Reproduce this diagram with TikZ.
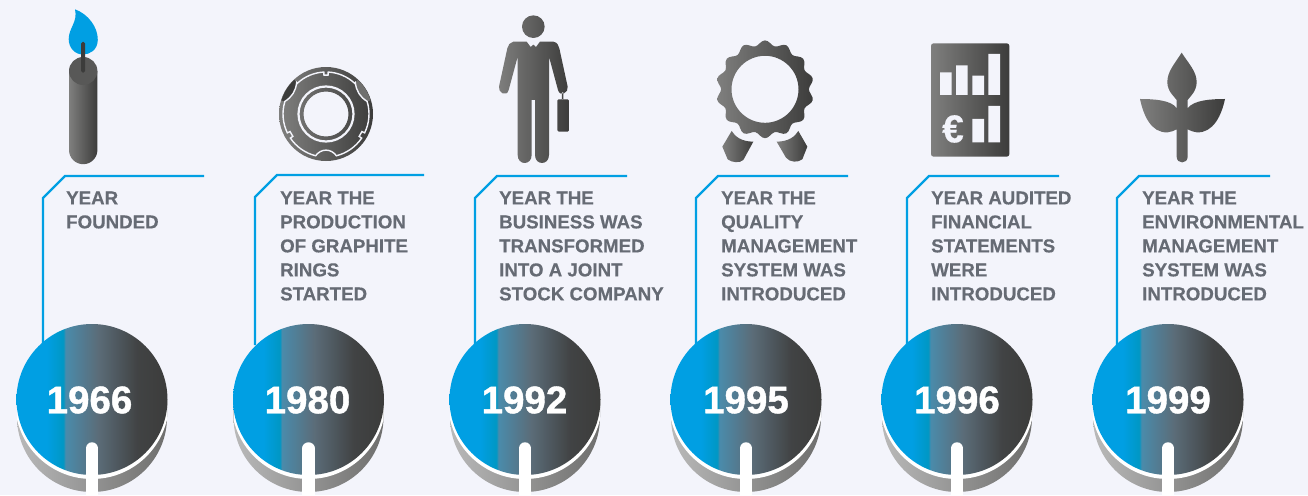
\documentclass[tikz,border=0pt]{standalone}
\usepackage{fontspec}
\setmainfont[BoldFeatures={FakeBold=0.35}]{Liberation Sans}
\newfontfamily\yearfont[BoldFeatures={FakeBold=1}]{Liberation Sans}
\definecolor{pagebg}{HTML}{F3F4FB}
\definecolor{lineblue}{HTML}{009FE3}
\definecolor{txtgray}{HTML}{666B74}
\definecolor{dkgray}{HTML}{3C3C3B}
\definecolor{midtop}{HTML}{585857}
\definecolor{dsz}{HTML}{0097C4}
\definecolor{dsa}{HTML}{4A8BAB}
\definecolor{dsb}{HTML}{5B6C78}
\definecolor{dsc}{HTML}{414344}
\definecolor{bsa}{HTML}{B9B9B9}
\definecolor{bsb}{HTML}{6E6E6D}
\definecolor{ica}{HTML}{7F7F7E}
\definecolor{lensr}{HTML}{6F6F6E}
\pgfdeclarehorizontalshading{discshade}{100bp}{color(0bp)=(lineblue);color(25bp)=(lineblue);color(35bp)=(lineblue);color(40.5bp)=(dsz);color(41.2bp)=(dsa);color(52bp)=(dsb);color(65bp)=(dsc);color(75bp)=(dkgray);color(100bp)=(dkgray)}
\pgfdeclarehorizontalshading{baseshade}{100bp}{color(0bp)=(bsa);color(25bp)=(bsa);color(75bp)=(bsb);color(100bp)=(bsb)}
\pgfdeclarehorizontalshading{iconshade}{100bp}{color(0bp)=(ica);color(25bp)=(ica);color(75bp)=(dkgray);color(100bp)=(dkgray)}
\tikzset{
  disc/.style={circle,minimum size=151pt,inner sep=0pt,shade,shading=discshade},
  yeartxt/.style={text=white,font=\yearfont\bfseries\fontsize{38.5}{38.5}\selectfont,inner sep=0pt},
  desc/.style={anchor=north west,inner sep=0pt,align=left,text=txtgray,font=\bfseries\fontsize{18.7}{24}\selectfont},
  link/.style={draw=lineblue,line width=2.2pt,line join=miter},
  stemline/.style={draw=white,line width=12.5pt,line cap=round},
  icon/.style={shade,shading=iconshade},
  gap/.style={draw=pagebg,line width=1.4pt}
}
\newcommand{\onecol}[8]{%
  \coordinate (s#1) at (#4,345);
  \coordinate (b#1) at (#4,#7+22);
  \coordinate (c#1) at (#4+22,#7);
  \coordinate (e#1) at (#5,#7);
  \draw[link] (s#1) -- (b#1) -- (c#1) -- (e#1);
  \shade[shading=baseshade] (#2-75,400) -- (#2-75,417) arc[start angle=180,end angle=0,x radius=75,y radius=75] -- (#2+75,400) -- cycle;
  \begin{scope}
    \clip (#2-75,400) -- (#2-75,417) arc[start angle=180,end angle=0,x radius=75,y radius=75] -- (#2+75,400) -- cycle;
    \fill[white] (#2,402) circle[radius=77];
  \end{scope}
  \node[disc] (d#1) at (#2,399.5) {};
  \node[yeartxt] (y#1) at (#3,400) {#1};
  \coordinate (t#1) at (#2,448.5);
  \coordinate (u#1) at (#2,500);
  \draw[stemline] (t#1) -- (u#1);
  \node[desc] (x#1) at (#6,191.3) {#8};
}
\begin{document}
\begin{tikzpicture}[x=1pt,y=-1pt]
\useasboundingbox (0,0) rectangle (1308,495);
\fill[pagebg] (0,0) rectangle (1308,495);

\onecol{1966}{92}{89.5}{43}{204}{66}{176}{YEAR\\FOUNDED}
\onecol{1980}{308.5}{307.5}{255}{424}{280}{175}{YEAR THE\\PRODUCTION\\OF GRAPHITE\\RINGS\\STARTED}
\onecol{1992}{525}{524.5}{475}{627}{499}{176}{YEAR THE\\BUSINESS WAS\\TRANSFORMED\\INTO A JOINT\\STOCK COMPANY}
\onecol{1995}{746}{746}{696}{848}{721}{176}{YEAR THE\\QUALITY\\MANAGEMENT\\SYSTEM WAS\\INTRODUCED}
\onecol{1996}{957}{957}{907}{1059}{931}{176}{YEAR AUDITED\\FINANCIAL\\STATEMENTS\\WERE\\INTRODUCED}
\onecol{1999}{1168}{1168}{1117}{1270}{1142}{176}{YEAR THE\\ENVIRONMENTAL\\MANAGEMENT\\SYSTEM WAS\\INTRODUCED}

% candle
\fill[lineblue] (75,9.3) .. controls (88,14) and (98,27) .. (97.8,40) .. controls (97.5,50) and (90,54.5) .. (83,54.5) .. controls (75,54.5) and (68.7,48) .. (68.7,39) .. controls (68.7,28) and (78,22) .. (75,9.3) -- cycle;
\shade[icon] (69,71) -- (69,150) arc[start angle=180,end angle=0,x radius=14.2,y radius=14.2] -- (97.4,71) -- cycle;
\fill[midtop] (83.2,71) ellipse[x radius=14.2,y radius=14];
\fill[dkgray,rounded corners=1.5pt] (81,42) rectangle (85.2,72.5);

% graphite ring
\begin{scope}[shift={(326,114)},x=1pt,y=1pt]
  \shade[icon,even odd rule] (0,0) circle[radius=47] (0,0) circle[radius=22.5];
  \draw[pagebg,line width=2.2pt] (0,0) circle[radius=27.5];
  \fill[dkgray] (133:43) .. controls (143:38) and (153:38) .. (163:43) -- (163:46.6) arc[start angle=163,end angle=133,radius=46.6] -- cycle;
  \fill[lensr] (47:43) .. controls (37:38) and (27:38) .. (17:43) -- (17:46.6) arc[start angle=17,end angle=47,radius=46.6] -- cycle;
  \draw[gap] (93:42) arc[start angle=93,end angle=133,radius=42] -- (133:43) .. controls (143:38) and (153:38) .. (163:43) arc[start angle=163,end angle=206,radius=43] -- (206:40) -- (214:40) -- (214:43) arc[start angle=214,end angle=256,radius=43] .. controls (262:34.6) and (278:34.6) .. (284:43) arc[start angle=284,end angle=326,radius=43] -- (326:40) -- (334:40) -- (334:43) arc[start angle=334,end angle=377,radius=43] .. controls (27:38) and (37:38) .. (47:43) -- (47:42) arc[start angle=47,end angle=87,radius=42] -- (87:39) -- (93:39) -- cycle;
\end{scope}

% businessman
\begin{scope}[shift={(480,5)},x=0.3333pt,y=-0.3333pt]
  \shade[icon] (160,65) circle[radius=34]
    (100,110) -- (140,110) -- (152,126) -- (160,119) -- (168,126) -- (180,110) -- (220,110)
    .. controls (232,112) and (236,122) .. (238,130) -- (263,245)
    .. controls (267,262) and (240,278) .. (234,255) -- (207,155) -- (207,450)
    .. controls (207,482) and (165,482) .. (165,450) -- (165,285) -- (155,285) -- (155,450)
    .. controls (155,482) and (113,482) .. (113,450) -- (113,155) -- (86,255)
    .. controls (80,278) and (53,262) .. (57,245) -- (82,130)
    .. controls (84,120) and (90,112) .. (100,110) -- cycle
    (246,262) rectangle (250,285)
    (236,283) -- (263,283) .. controls (266,283) and (267,284) .. (267,287) -- (267,376) .. controls (267,379) and (266,380) .. (263,380) -- (236,380) .. controls (233,380) and (232,379) .. (232,376) -- (232,287) .. controls (232,284) and (233,283) .. (236,283) -- cycle;
\end{scope}

% quality seal
\begin{scope}[shift={(765,89.3)},x=1pt,y=1pt]
  \shade[icon,even odd rule] plot[smooth,domain=0:360,samples=113,variable=\t] ({\t}:{46.4+2.5*cos(14*(\t-90))}) -- cycle (0,0) circle[radius=33.5];
\end{scope}
\begin{scope}[shift={(700,30)},x=0.3333pt,y=-0.3333pt]
  \shade[icon] (95,303) .. controls (105,320) and (125,335) .. (160,335) -- (130,390) .. controls (120,400) and (95,398) .. (83,388) -- (67,350) -- cycle;
  \shade[icon] (295,303) .. controls (285,320) and (265,335) .. (230,335) -- (258,383) .. controls (270,398) and (295,398) .. (307,388) -- (322,350) -- cycle;
\end{scope}

% financial statement
\begin{scope}[shift={(915,30)},x=0.3333pt,y=-0.3333pt]
  \shade[icon,rounded corners=2.5pt] (48,40) rectangle (283,380);
  \fill[pagebg] (75,127) rectangle (110,195) (123,106) rectangle (158,195) (172,137) rectangle (207,195) (220,72) rectangle (255,195) (172,267) rectangle (207,337) (220,228) rectangle (255,337);
  \node[text=pagebg,inner sep=0pt,font=\bfseries\fontsize{39}{39}\selectfont] (euro) at (114,297) {€};
\end{scope}

% plant
\begin{scope}[shift={(1125,40)},x=0.3333pt,y=-0.3333pt]
  \shade[icon] (170,38) .. controls (190,70) and (216,95) .. (215,128)
    .. controls (214,155) and (195,170) .. (188,180) -- (188,205)
    .. controls (205,180) and (260,177) .. (300,177)
    .. controls (290,225) and (265,280) .. (215,277)
    .. controls (205,276) and (195,272) .. (188,268) -- (188,350)
    .. controls (188,373) and (155,373) .. (155,350) -- (155,268)
    .. controls (148,272) and (138,276) .. (128,277)
    .. controls (78,280) and (55,225) .. (45,177)
    .. controls (85,177) and (140,180) .. (155,205) -- (155,180)
    .. controls (148,170) and (128,155) .. (127,128)
    .. controls (126,95) and (150,70) .. (170,38) -- cycle;
\end{scope}
\end{tikzpicture}
\end{document}
